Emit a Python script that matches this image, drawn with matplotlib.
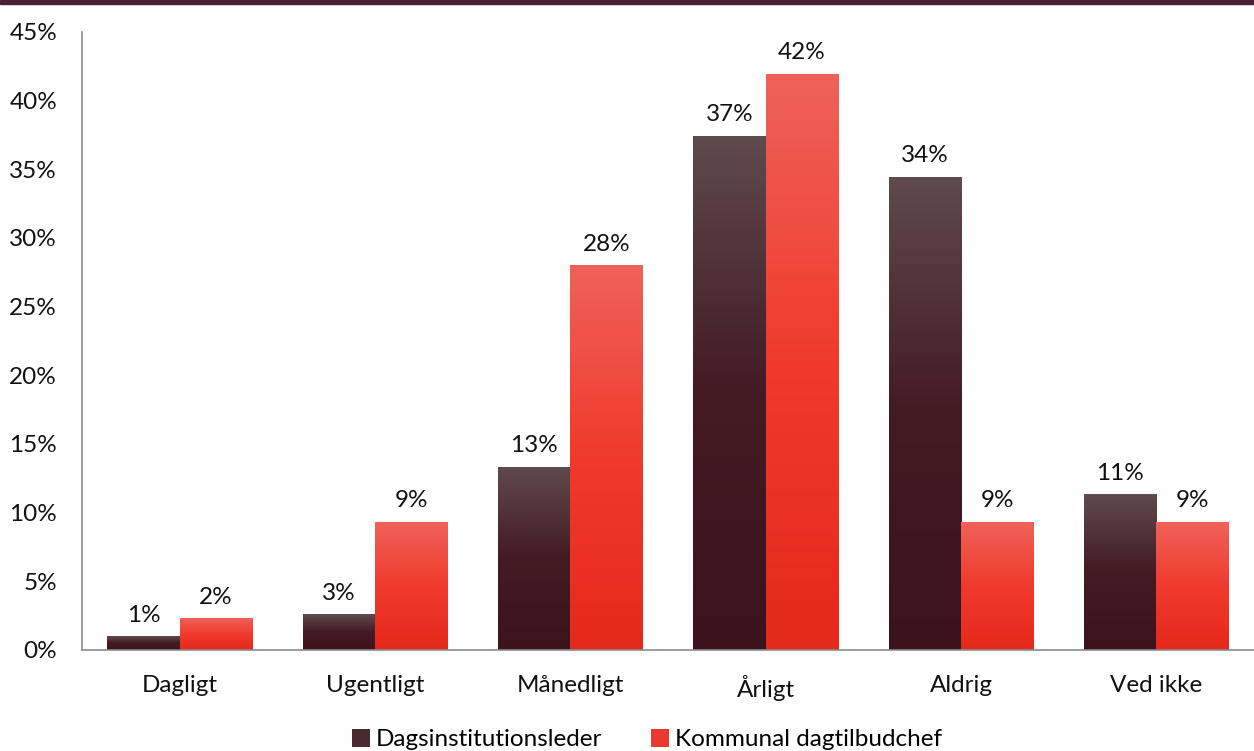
import numpy as np
import matplotlib.pyplot as plt
from matplotlib.colors import LinearSegmentedColormap
from matplotlib.patches import Patch, Rectangle

plt.rcParams['font.family'] = ['Lato', 'DejaVu Sans']

categories = ["Dagligt", "Ugentligt", "Månedligt", "Årligt", "Aldrig", "Ved ikke"]
series_names = ["Dagsinstitutionsleder", "Kommunal dagtilbudchef"]
leder = [0.95, 2.55, 13.3, 37.4, 34.4, 11.3]
chef = [2.26, 9.3, 27.97, 41.9, 9.3, 9.3]

# gradient colours: bottom -> top
dark_cmap = LinearSegmentedColormap.from_list(
    "dark", [(0, "#3c131d"), (0.5, "#441a23"), (1, "#5f4a4e")])
red_cmap = LinearSegmentedColormap.from_list(
    "red", [(0, "#e5291a"), (0.5, "#f03a2c"), (1, "#ef6259")])

fig = plt.figure(figsize=(12.54, 7.51), dpi=100)
ax = fig.add_axes([0.0654, 0.1345, 0.9346, 0.8229])

x = np.arange(len(categories))
w = 0.37
grad = np.linspace(0, 1, 256).reshape(-1, 1)
fs = 17.5

for vals, offset, cmap in [(leder, -w / 2, dark_cmap), (chef, w / 2, red_cmap)]:
    bars = ax.bar(x + offset, vals, width=w, color="none", edgecolor="none")
    for b, v in zip(bars, vals):
        x0 = b.get_x()
        ax.imshow(grad, cmap=cmap, origin="lower", aspect="auto",
                  extent=[x0, x0 + b.get_width(), 0, v], zorder=2)
        ax.annotate(f"{round(v)}%", (x0 + b.get_width() / 2, v),
                    xytext=(0, 8), textcoords="offset points",
                    ha="center", va="bottom", fontsize=fs, color="#111111")

ax.set_xlim(-0.5, len(categories) - 0.5)
ax.set_ylim(0, 45)
ax.set_yticks(np.arange(0, 46, 5))
ax.set_yticklabels([f"{t}%" for t in range(0, 46, 5)])
ax.set_xticks(x)
ax.set_xticklabels(categories)
ax.tick_params(axis="both", length=0, labelsize=fs, colors="#111111")
ax.tick_params(axis="y", pad=18)
ax.tick_params(axis="x", pad=18)

for s in ["top", "right"]:
    ax.spines[s].set_visible(False)
for s in ["left", "bottom"]:
    ax.spines[s].set_color("#8c8c8c")
    ax.spines[s].set_linewidth(1.2)

handles = [Patch(facecolor="#4a2a30"), Patch(facecolor="#e83a2e")]
fig.legend(handles, series_names, loc="center", bbox_to_anchor=(0.516, 0.015),
           ncol=2, frameon=False, fontsize=fs, handlelength=0.75,
           handleheight=0.75, handletextpad=0.25, columnspacing=2.0)

# dark line along the top edge
fig.add_artist(Rectangle((0, 0.995), 1, 0.005, transform=fig.transFigure,
                         color="#4b2232", zorder=10))

plt.savefig("out.png", dpi=100)
